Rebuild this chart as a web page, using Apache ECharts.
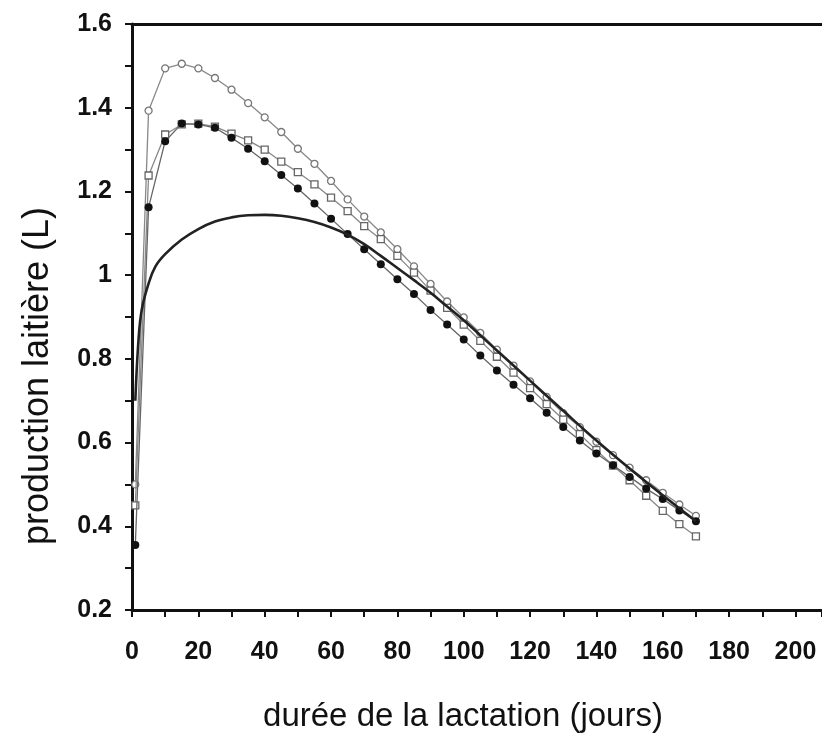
<!DOCTYPE html>
<html>
<head>
<meta charset="utf-8">
<script src="https://cdn.jsdelivr.net/npm/echarts@6/dist/echarts.min.js"></script>
<style>html,body{margin:0;padding:0;background:#fff}#c{width:822px;height:733px}</style>
</head>
<body>
<div id="c"></div>
<script>
var days = [1,5,10,15,20,25,30,35,40,45,50,55,60,65,70,75,80,85,90,95,100,105,110,115,120,125,130,135,140,145,150,155,160,165,170];
var openCircles = [0.50,1.393,1.494,1.505,1.494,1.471,1.443,1.411,1.377,1.342,1.302,1.266,1.225,1.181,1.140,1.102,1.062,1.021,0.979,0.937,0.899,0.862,0.822,0.784,0.746,0.709,0.670,0.637,0.602,0.570,0.540,0.510,0.480,0.452,0.425];
var openSquares = [0.45,1.238,1.336,1.360,1.362,1.355,1.338,1.322,1.300,1.271,1.246,1.217,1.185,1.153,1.117,1.086,1.046,1.006,0.963,0.922,0.882,0.843,0.805,0.767,0.730,0.692,0.655,0.620,0.582,0.545,0.510,0.473,0.437,0.405,0.376];
var filledCircles = [0.355,1.162,1.320,1.362,1.360,1.352,1.328,1.302,1.272,1.239,1.207,1.171,1.135,1.098,1.062,1.026,0.990,0.955,0.917,0.882,0.846,0.808,0.772,0.738,0.706,0.671,0.637,0.605,0.574,0.546,0.518,0.490,0.465,0.438,0.412];
var fitDays = [1,2,3,5,7,10,15,20,25,30,35,40,45,50,55,60,65,70,75,80,85,90,95,100,110,120,130,140,150,160,170];
var fitCurve = [0.70,0.85,0.92,0.98,1.02,1.05,1.085,1.11,1.128,1.138,1.143,1.144,1.142,1.136,1.127,1.114,1.097,1.074,1.046,1.017,0.988,0.958,0.925,0.892,0.820,0.748,0.676,0.605,0.538,0.474,0.412];
var xTicks = [0,20,40,60,80,100,120,140,160,180,200];

function pairs(xs, ys){ return xs.map(function(x,i){ return [x, ys[i]]; }); }

var chart = echarts.init(document.getElementById('c'), null, {renderer:'canvas'});
var labelFont = {fontFamily:'Liberation Sans, Arial, sans-serif', fontWeight:'bold', fontSize:25, color:'#111'};
var titleFontX = {fontFamily:'Liberation Sans, Arial, sans-serif', fontSize:33, color:'#111', padding:[0,28,0,0]};
var titleFontY = {fontFamily:'Liberation Sans, Arial, sans-serif', fontSize:36, color:'#111', padding:[0,118,0,0]};
chart.setOption({
  animation:false,
  backgroundColor:'#fff',
  grid:{left:132, top:24, right:0, bottom:123, containLabel:false, outerBoundsMode:'none'},
  xAxis:[{
    type:'value', min:0, max:208, interval:20, position:'bottom',
    name:'durée de la lactation (jours)', nameLocation:'middle', nameGap:90, nameTextStyle:titleFontX,
    axisLine:{show:true, onZero:false, lineStyle:{color:'#111', width:3}},
    axisTick:{show:true, length:7, lineStyle:{color:'#111', width:2}},
    minorTick:{show:true, splitNumber:2, length:7, lineStyle:{color:'#111', width:2}},
    axisLabel:Object.assign({margin:30, showMaxLabel:false, formatter:function(v){ return xTicks.indexOf(v)>=0 ? String(v) : ''; }}, labelFont),
    splitLine:{show:false}
  },{
    type:'value', min:0, max:208, position:'top',
    axisLine:{show:true, onZero:false, lineStyle:{color:'#111', width:3}},
    axisTick:{show:false}, axisLabel:{show:false}, splitLine:{show:false}
  }],
  yAxis:{
    type:'value', min:0.2, max:1.6, interval:0.2,
    name:'production laitière (L)', nameLocation:'middle', nameGap:76, nameRotate:90, nameTextStyle:titleFontY,
    axisLine:{show:true, onZero:false, lineStyle:{color:'#111', width:3}},
    axisTick:{show:true, length:7, lineStyle:{color:'#111', width:2}},
    minorTick:{show:true, splitNumber:2, length:7, lineStyle:{color:'#111', width:2}},
    axisLabel:Object.assign({margin:20, formatter:function(v){ return String(Math.round(v*10)/10); }}, labelFont),
    splitLine:{show:false}
  },
  series:[
    {type:'line', data:pairs(days, openCircles), symbol:'circle', symbolSize:7, showAllSymbol:true,
     lineStyle:{color:'#888', width:1.3}, itemStyle:{color:'#fff', borderColor:'#777', borderWidth:1.3}, z:2},
    {type:'line', data:pairs(days, openSquares), symbol:'rect', symbolSize:7, showAllSymbol:true,
     lineStyle:{color:'#888', width:1.3}, itemStyle:{color:'#fff', borderColor:'#666', borderWidth:1.3}, z:3},
    {type:'line', data:pairs(days, filledCircles), symbol:'circle', symbolSize:8, showAllSymbol:true,
     lineStyle:{color:'#666', width:1.3}, itemStyle:{color:'#111'}, z:4},
    {type:'line', data:pairs(fitDays, fitCurve), symbol:'none', smooth:0.4,
     lineStyle:{color:'#222', width:2.6}, z:5}
  ]
});
</script>
</body>
</html>
